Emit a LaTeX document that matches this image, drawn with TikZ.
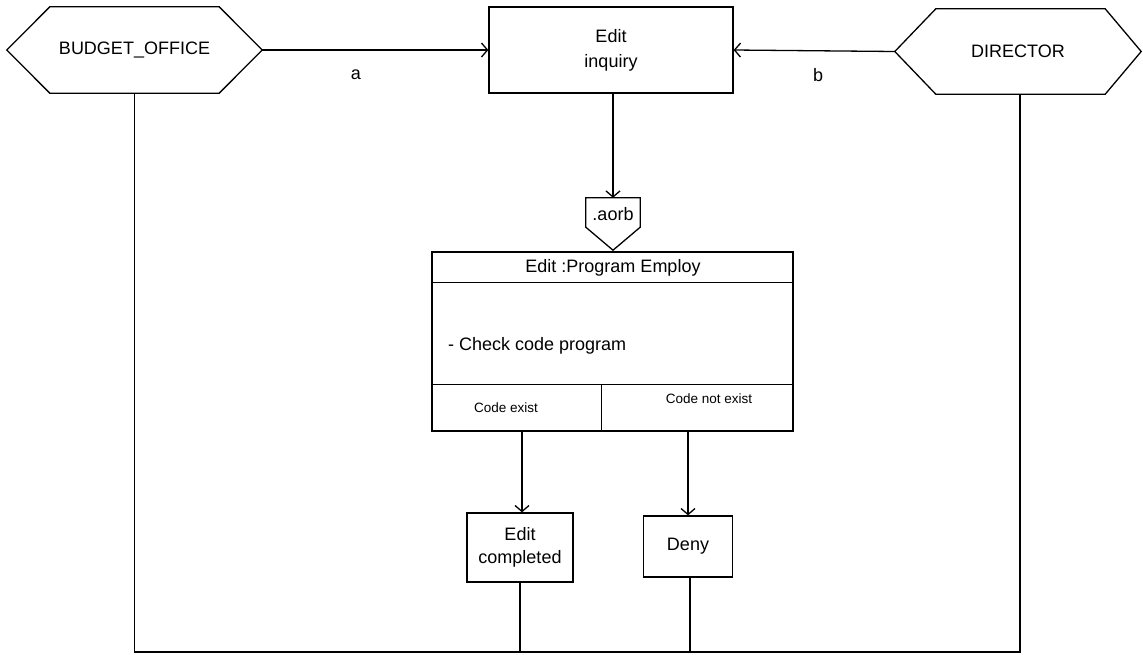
\documentclass[tikz,border=0pt]{standalone}
\usepackage{fontspec}
\setmainfont{Liberation Sans}
\usetikzlibrary{arrows.meta}

\tikzset{
  base/.style={font=\fontsize{18}{23}\selectfont, inner sep=0pt, align=center},
  small/.style={font=\fontsize{13.5}{16}\selectfont, inner sep=0pt},
  boxnode/.style={base, draw, line width=1.3pt},
  shellnode/.style={base, draw=none},
  wire/.style={line width=1.3pt},
  flow/.style={wire, -{Straight Barb[length=6pt,width=14pt,line width=1.3pt]}},
}

\begin{document}
\begin{tikzpicture}[x=1pt, y=-1pt, line join=miter]
  \useasboundingbox (0,0) rectangle (1143,654);
  \fill[white] (0,0) rectangle (1143,654);

  % external entities (hexagons)
  \node[shellnode, minimum width=255pt, minimum height=86pt] (bo) at (134.5,50) {BUDGET\_OFFICE};
  \draw[wire] (bo.west) -- ([xshift=43pt]bo.north west) -- ([xshift=-43pt]bo.north east)
    -- (bo.east) -- ([xshift=-43pt]bo.south east) -- ([xshift=43pt]bo.south west) -- cycle;

  \node[shellnode, minimum width=246pt, minimum height=85pt] (dir) at (1018,51.5) {DIRECTOR};
  \draw[wire] (dir.west) -- ([xshift=41pt]dir.north west) -- ([xshift=-36pt]dir.north east)
    -- (dir.east) -- ([xshift=-36pt]dir.south east) -- ([xshift=41pt]dir.south west) -- cycle;

  % processes
  \node[boxnode, minimum width=244pt, minimum height=86pt,
        font=\fontsize{18}{25}\selectfont] (ei) at (611,50) {Edit\\inquiry};

  % connector label pentagon
  \node[shellnode, minimum width=54pt, minimum height=29pt] (aorb) at (613,212.5) {};
  \draw[wire] (aorb.north west) -- (aorb.north east) -- (aorb.south east)
    -- ([yshift=-23pt]aorb.south) -- (aorb.south west) -- cycle;
  \node[base, anchor=center] (aorbtxt) at (613,214) {.aorb};

  % procedure box with header, body and two outcome cells
  \node[draw, line width=1.3pt, minimum width=361pt, minimum height=179pt, inner sep=0pt] (main) at (612.5,341.5) {};
  \draw[wire] ([yshift=-31pt]main.north west) -- ([yshift=-31pt]main.north east);
  \draw[wire] ([yshift=47pt]main.south west) -- ([yshift=47pt]main.south east);
  \draw[wire] ([xshift=170pt]main.south west) -- ([xshift=170pt,yshift=47pt]main.south west);
  \node[base] (hdr) at (613,268) {Edit :Program Employ};
  \node[base, anchor=west] (body) at (448,346) {- Check code program};
  \node[small] (yes) at (506,408) {Code exist};
  \node[small] (no) at (709,399) {Code not exist};

  % outcomes
  \node[boxnode, minimum width=106pt, minimum height=69pt] (ec) at (520,547.5) {Edit\\completed};
  \node[boxnode, minimum width=89pt, minimum height=61pt] (deny) at (688,546.5) {Deny};

  % labels on the inputs
  \node[base] (la) at (356,75) {a};
  \node[base] (lb) at (818,75) {b};

  % flows
  \draw[flow] (bo.east) -- (ei.west);
  \draw[flow] (dir.west) -- (ei.east);
  \draw[flow] (aorb.north |- ei.south) -- (aorb.north);
  \draw[flow] ([xshift=2pt]ec.north |- main.south) -- ([xshift=2pt]ec.north);
  \draw[flow] (deny.north |- main.south) -- (deny.north);

  % return lines along the bottom
  \coordinate (floor) at (0,652);
  \draw[wire] (bo.south) -- (bo.south |- floor) -- ([xshift=2pt]dir.south |- floor) -- ([xshift=2pt]dir.south);
  \draw[wire] (ec.south) -- (ec.south |- floor);
  \draw[wire] ([xshift=2pt]deny.south) -- ([xshift=2pt]deny.south |- floor);
\end{tikzpicture}
\end{document}
